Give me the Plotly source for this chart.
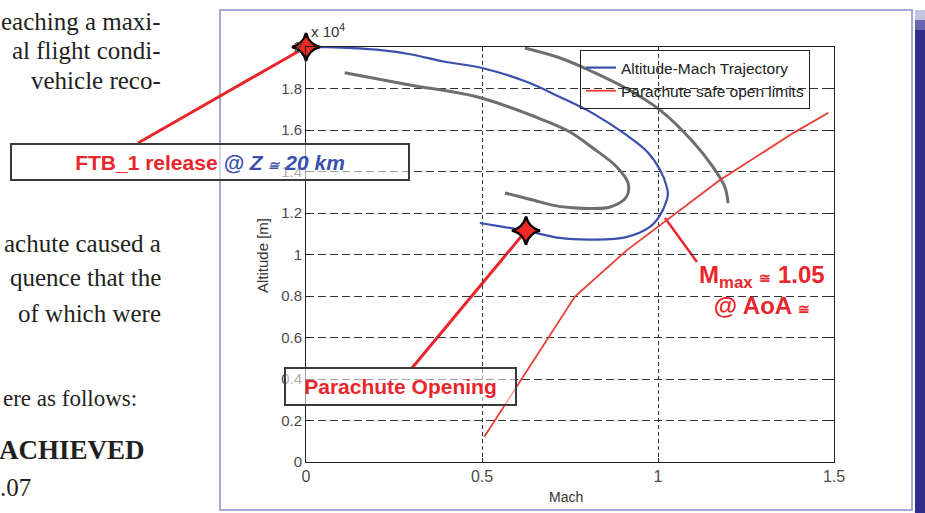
import plotly.graph_objects as go

# ---- data -------------------------------------------------------------
# Altitude-Mach trajectory (Mach, altitude in m)
traj_mach = [0.00, 0.10, 0.20, 0.30, 0.39, 0.50, 0.63, 0.72, 0.815, 0.91, 0.97,
             1.006, 1.025, 1.028, 1.025, 1.006, 0.977, 0.91, 0.815, 0.72, 0.625,
             0.56, 0.494]
traj_alt = [20000, 19970, 19870, 19640, 19300, 18990, 18300, 17600, 16800, 15760,
            14940, 14070, 13250, 12900, 12630, 11900, 11330, 10840, 10720, 10800,
            11150, 11330, 11520]

# Reference envelopes (grey)
inner_mach = [0.11, 0.295, 0.485, 0.674, 0.75, 0.815, 0.883, 0.915, 0.91, 0.864,
              0.80, 0.75, 0.70, 0.65, 0.60, 0.565]
inner_alt = [18760, 18170, 17600, 16480, 15900, 15130, 14220, 13440, 12770, 12290,
             12220, 12260, 12380, 12600, 12820, 12960]
outer_mach = [0.622, 0.722, 0.815, 0.91, 1.006, 1.10, 1.156, 1.19, 1.199]
outer_alt = [19950, 19470, 18800, 18000, 16960, 15420, 14220, 13250, 12480]

# Parachute safe open limits
limit_mach = [0.506, 0.764, 0.911, 1.0, 1.176, 1.384, 1.484]
limit_alt = [1200, 7970, 10200, 11350, 13590, 15850, 16830]

# Event markers
release_mach, release_alt = [0.0], [20000]
opening_mach, opening_alt = [0.625], [11150]
mmax_mach, mmax_alt = 1.02, 11760

# Axis ticks
x_ticks = [0, 0.5, 1, 1.5]
x_tick_text = ["0", "0.5", "1", "1.5"]
y_ticks = [0, 2000, 4000, 6000, 8000, 10000, 12000, 14000, 16000, 18000, 20000]
y_tick_text = ["0", "0.2", "0.4", "0.6", "0.8", "1", "1.2", "1.4", "1.6", "1.8", "2"]

# Surrounding page text (right edge x, centre y, text, size, bold)
page_lines = [
    (163, 22, "eaching a maxi-", 25, False),
    (163, 51, "al flight condi-", 25, False),
    (163, 80, "vehicle reco-", 25, False),
    (163, 243, "achute caused a", 25, False),
    (163, 277, "quence that the", 25, False),
    (163, 313, "of which were", 25, False),
    (139, 398, "ere as follows:", 23, False),
    (147, 450, "ACHIEVED", 27, True),
    (33, 487, ".07", 25, False),
]

# ---- geometry ---------------------------------------------------------
W, H = 925, 513
L, R, T, B = 306, 91, 47, 51
PW, PH = W - L - R, H - T - B
X_MAX, Y_MAX = 1.5, 20000


def px_x(p):
    return (p - L) / PW


def px_y(p):
    return (H - B - p) / PH


SANS = "Arial, Liberation Sans, sans-serif"
SERIF = "Liberation Serif, DejaVu Serif, serif"
RED = "#e8262b"
BLUE = "#3a4fae"

fig = go.Figure()

fig.add_trace(go.Scatter(x=inner_mach, y=inner_alt, mode="lines",
                         line=dict(color="#6e6e6e", width=3, shape="spline", smoothing=1.0),
                         showlegend=False))
fig.add_trace(go.Scatter(x=outer_mach, y=outer_alt, mode="lines",
                         line=dict(color="#6e6e6e", width=3, shape="spline", smoothing=1.0),
                         showlegend=False))
fig.add_trace(go.Scatter(x=traj_mach, y=traj_alt, mode="lines",
                         name="Altitude-Mach Trajectory",
                         line=dict(color=BLUE, width=2.2, shape="spline", smoothing=1.0)))
fig.add_trace(go.Scatter(x=limit_mach, y=limit_alt, mode="lines",
                         name="Parachute safe open limits",
                         line=dict(color="#ee3b33", width=1.8)))
fig.add_trace(go.Scatter(x=release_mach + opening_mach, y=release_alt + opening_alt,
                         mode="markers", showlegend=False, cliponaxis=False,
                         marker=dict(symbol="star-diamond", size=20, color="#ee2a24",
                                     line=dict(color="black", width=2.5))))

shapes = [
    # chart frame
    dict(type="rect", xref="paper", yref="paper", layer="below",
         x0=px_x(220), x1=px_x(912), y0=px_y(510), y1=px_y(10),
         line=dict(color="#a3a8d4", width=2), fillcolor="rgba(0,0,0,0)"),
    # navy page band
    dict(type="rect", xref="paper", yref="paper", layer="below",
         x0=px_x(915), x1=px_x(930), y0=px_y(520), y1=px_y(30),
         line=dict(width=0), fillcolor="#2d2e8c"),
    dict(type="rect", xref="paper", yref="paper", layer="below",
         x0=px_x(915), x1=px_x(930), y0=px_y(30), y1=px_y(20),
         line=dict(width=0), fillcolor="#6566ac"),
    dict(type="rect", xref="paper", yref="paper", layer="below",
         x0=px_x(915), x1=px_x(930), y0=px_y(20), y1=px_y(10),
         line=dict(width=0), fillcolor="#c3c4e0"),
    # pointer lines
    dict(type="line", xref="paper", yref="paper", layer="below",
         x0=px_x(138), y0=px_y(143),
         x1=release_mach[0] / X_MAX, y1=release_alt[0] / Y_MAX,
         line=dict(color=RED, width=3)),
    dict(type="line", xref="paper", yref="paper", layer="below",
         x0=px_x(412), y0=px_y(368),
         x1=opening_mach[0] / X_MAX, y1=opening_alt[0] / Y_MAX,
         line=dict(color=RED, width=3)),
    dict(type="line", xref="paper", yref="paper", layer="below",
         x0=px_x(697), y0=px_y(262),
         x1=mmax_mach / X_MAX, y1=mmax_alt / Y_MAX,
         line=dict(color=RED, width=2.5)),
]

annotations = [
    dict(xref="paper", yref="paper", x=px_x(210), y=px_y(162),
         xanchor="center", yanchor="middle", showarrow=False,
         width=396, height=34, borderpad=0, borderwidth=2, bordercolor="#3a3a3a",
         bgcolor="rgba(255,255,255,0.55)",
         text=(f"<b><span style='color:{RED}'>FTB_1 release</span> "
               f"<i><span style='color:{BLUE}'>@ Z <span style='font-size:13px'>≅</span> 20 km</span></i></b>"),
         font=dict(family=SANS, size=21)),
    dict(xref="paper", yref="paper", x=px_x(400), y=px_y(386.5),
         xanchor="center", yanchor="middle", showarrow=False,
         width=229, height=35, borderpad=0, borderwidth=2, bordercolor="#3a3a3a",
         bgcolor="rgba(255,255,255,0.55)",
         text="<b>Parachute Opening</b>", font=dict(family=SANS, size=21, color=RED)),
    dict(xref="paper", yref="paper", x=px_x(762), y=px_y(290),
         xanchor="center", yanchor="middle", showarrow=False,
         text=("<b>M<sub>max</sub> <span style='font-size:14px'>≅</span> 1.05<br>"
               "@ AoA <span style='font-size:14px'>≅</span></b>"),
         font=dict(family=SANS, size=24, color=RED)),
    dict(xref="paper", yref="paper", x=px_x(262), y=px_y(256),
         xanchor="center", yanchor="middle", showarrow=False, textangle=-90,
         text="Altitude [m]", font=dict(family=SANS, size=15, color="#333")),
    dict(xref="paper", yref="paper", x=px_x(566), y=px_y(497),
         xanchor="center", yanchor="middle", showarrow=False,
         text="Mach", font=dict(family=SANS, size=14, color="#333")),
    dict(xref="paper", yref="paper", x=px_x(309), y=px_y(31),
         xanchor="left", yanchor="middle", showarrow=False,
         text="x 10<sup>4</sup>", font=dict(family=SANS, size=15, color="#333")),
]

for x_right, y_mid, txt, size, bold in page_lines:
    annotations.append(dict(
        xref="paper", yref="paper", x=px_x(x_right), y=px_y(y_mid),
        xanchor="right", yanchor="middle", showarrow=False,
        text=f"<b>{txt}</b>" if bold else txt,
        font=dict(family=SERIF, size=size, color="#231f20")))

axis_common = dict(showline=True, linecolor="#222", linewidth=1, mirror="ticks",
                   ticks="inside", ticklen=4, tickcolor="#222", showgrid=True,
                   gridcolor="#333", gridwidth=1, zeroline=False)

fig.update_layout(
    width=W, height=H,
    margin=dict(l=L, r=R, t=T, b=B),
    paper_bgcolor="white", plot_bgcolor="rgba(0,0,0,0)",
    xaxis=dict(range=[0, X_MAX], tickvals=x_ticks, ticktext=x_tick_text,
               griddash="4px,3px", tickfont=dict(family=SANS, size=16, color="#4a4a4a"),
               **axis_common),
    yaxis=dict(range=[0, Y_MAX], tickvals=y_ticks, ticktext=y_tick_text,
               griddash="8px,4px", tickfont=dict(family=SANS, size=15, color="#4a4a4a"),
               **axis_common),
    legend=dict(x=px_x(580), y=px_y(50), xanchor="left", yanchor="top",
                bgcolor="rgba(0,0,0,0)", bordercolor="#222", borderwidth=1,
                font=dict(family=SANS, size=15.5, color="#222"),
                tracegroupgap=0, itemwidth=30),
    shapes=shapes,
    annotations=annotations,
    showlegend=True,
)

fig.write_html("out.html")
